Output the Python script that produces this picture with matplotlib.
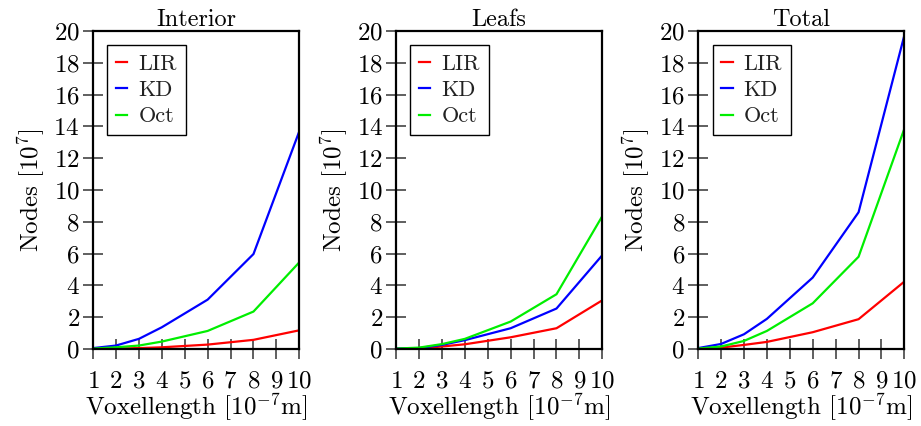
import matplotlib
matplotlib.use('Agg')
import matplotlib.pyplot as plt

plt.rcParams['font.family'] = 'cmr10'
plt.rcParams['mathtext.fontset'] = 'cm'
plt.rcParams['axes.formatter.use_mathtext'] = True

voxel = [1, 2, 3, 4, 6, 8, 10]
titles = ['Interior', 'Leafs', 'Total']

# nodes in 10^7
lir = [
    [0.0, 0.02, 0.05, 0.1, 0.27, 0.57, 1.17],
    [0.0, 0.03, 0.15, 0.29, 0.73, 1.3, 3.06],
    [0.01, 0.08, 0.25, 0.44, 1.05, 1.87, 4.24],
]
kd = [
    [0.05, 0.21, 0.63, 1.36, 3.1, 5.97, 13.7],
    [0.02, 0.05, 0.25, 0.55, 1.3, 2.54, 5.9],
    [0.05, 0.31, 0.92, 1.89, 4.49, 8.6, 19.75],
]
octree = [
    [0.02, 0.1, 0.21, 0.46, 1.13, 2.35, 5.45],
    [0.02, 0.08, 0.3, 0.63, 1.72, 3.44, 8.36],
    [0.02, 0.15, 0.5, 1.13, 2.87, 5.8, 13.87],
]

fig = plt.figure(figsize=(9.21, 4.26), dpi=100)
lefts = [0.101, 0.430, 0.758]
for i in range(3):
    ax = fig.add_axes([lefts[i], 0.181, 0.224, 0.746])
    ax.plot(voxel, lir[i], color='red', lw=1.6, label='LIR')
    ax.plot(voxel, kd[i], color='blue', lw=1.6, label='KD')
    ax.plot(voxel, octree[i], color='#00ee00', lw=1.6, label='Oct')
    ax.set_xlim(1, 10)
    ax.set_ylim(0, 20)
    ax.set_xticks(range(1, 11))
    ax.set_yticks(range(0, 21, 2))
    ax.tick_params(direction='inout', length=15, width=1.2, color='#444444',
                   labelsize=18, top=False, right=False)
    ax.tick_params(axis='x', pad=8)
    ax.tick_params(axis='y', pad=2)
    for s in ax.spines.values():
        s.set_linewidth(1.6)
    ax.set_title(titles[i], fontsize=17.5, pad=2)
    ax.set_xlabel(r'Voxellength [$10^{-7}$m]', fontsize=18, labelpad=-1)
    ax.set_ylabel(r'Nodes [$10^{7}$]', fontsize=18, labelpad=5)
    leg = ax.legend(loc='upper left', fontsize=16, handlelength=0.5,
                    fancybox=False, framealpha=1, edgecolor='black',
                    borderpad=0.4, labelspacing=0.3, handletextpad=0.5,
                    borderaxespad=0, bbox_to_anchor=(0.07, 0.955))
    leg.get_frame().set_linewidth(1.0)
    for t in leg.get_texts():
        t.set_color('#222222')

fig.savefig('out.png', dpi=100)
